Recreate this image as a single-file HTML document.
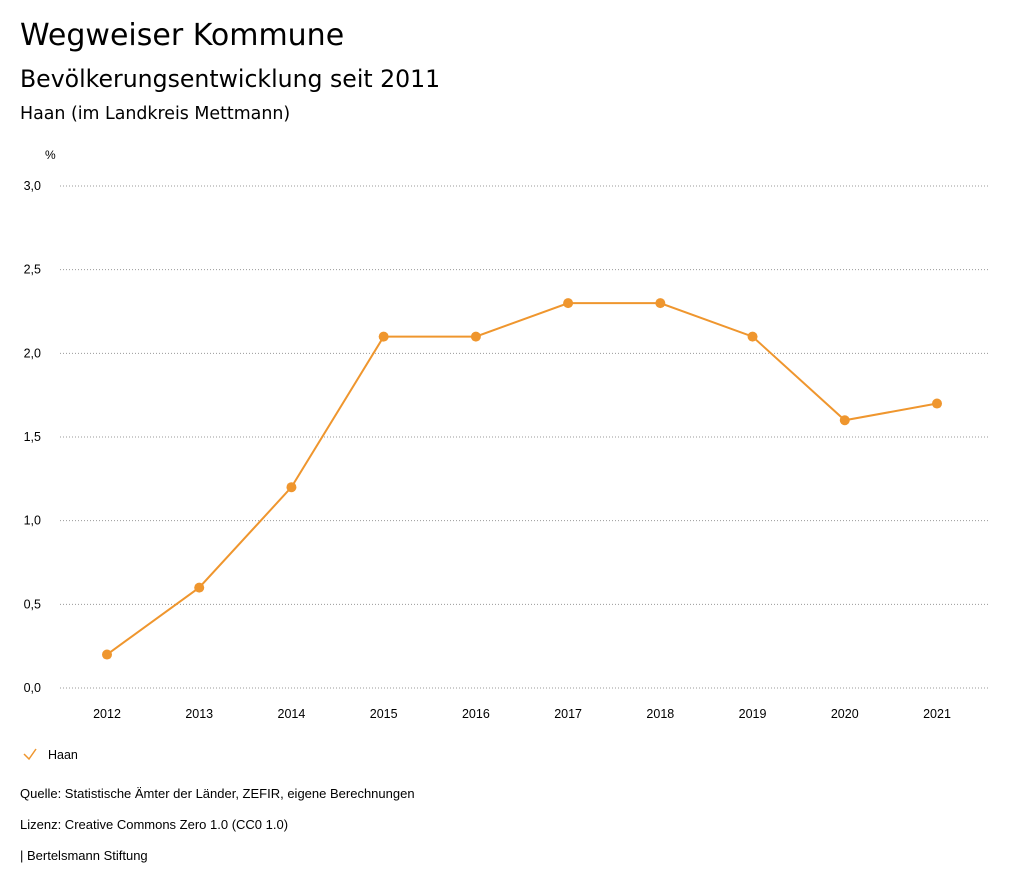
<!DOCTYPE html>
<html><head><meta charset="utf-8"><style>
body{margin:0;width:1024px;height:888px;background:#fff;font-family:"Liberation Sans",sans-serif;color:#000;overflow:hidden}
.t{position:absolute;left:20px;white-space:nowrap}
.d{font-family:"DejaVu Sans",sans-serif}
</style></head><body>
<div class="t d" style="top:18px;font-size:30px">Wegweiser Kommune</div>
<div class="t d" style="top:65px;font-size:23.6px">Bevölkerungsentwicklung seit 2011</div>
<div class="t d" style="top:104px;font-size:17.4px">Haan (im Landkreis Mettmann)</div>
<svg id="chart" width="1024" height="888" style="position:absolute;left:0;top:0" font-family="Liberation Sans, sans-serif"></svg>
<div class="t" style="top:786px;font-size:13px">Quelle: Statistische Ämter der Länder, ZEFIR, eigene Berechnungen</div>
<div class="t" style="top:817px;font-size:13px">Lizenz: Creative Commons Zero 1.0 (CC0 1.0)</div>
<div class="t" style="top:848px;font-size:13px">| Bertelsmann Stiftung</div>
<script>
const years=["2012","2013","2014","2015","2016","2017","2018","2019","2020","2021"];
const values=[0.2,0.6,1.2,2.1,2.1,2.3,2.3,2.1,1.6,1.7];
const yTicks=[0,0.5,1,1.5,2,2.5,3];
const yTickLabels=["0,0","0,5","1,0","1,5","2,0","2,5","3,0"];
const C="#ef962e",NS="http://www.w3.org/2000/svg";
const svg=document.getElementById('chart');
const x=i=>107+i*(937-107)/9;
const y=v=>688-v*(688-186)/3;
function mk(t,a,txt){const e=document.createElementNS(NS,t);for(const k in a)e.setAttribute(k,a[k]);if(txt!==undefined)e.textContent=txt;svg.appendChild(e);return e;}
let e=mk('text',{x:45,y:159,'font-size':12},'%');


yTicks.forEach((v,i)=>{
 let g=mk('line',{x1:60,x2:990,y1:y(v),y2:y(v),stroke:'#999','stroke-dasharray':'1,2'});
 
 
 let t=mk('text',{x:41,y:y(v)+4,'font-size':12.5,'text-anchor':'end'},yTickLabels[i]);
 
 
});
years.forEach((yr,i)=>{
 let t=mk('text',{x:x(i),y:718,'font-size':12.5,'text-anchor':'middle'},yr);
 
 
});
let p=mk('polyline',{points:values.map((v,i)=>x(i)+','+y(v)).join(' '),fill:'none',stroke:C,'stroke-width':2});


values.forEach((v,i)=>{
 let c=mk('circle',{cx:x(i),cy:y(v),r:5,fill:C});
 
 
});
let lg=mk('polyline',{points:'24,754 29,759 36,749',fill:'none',stroke:C,'stroke-width':1.5});


let lt=mk('text',{x:48,y:759,'font-size':12.5},'Haan');


</script>
</body></html>
